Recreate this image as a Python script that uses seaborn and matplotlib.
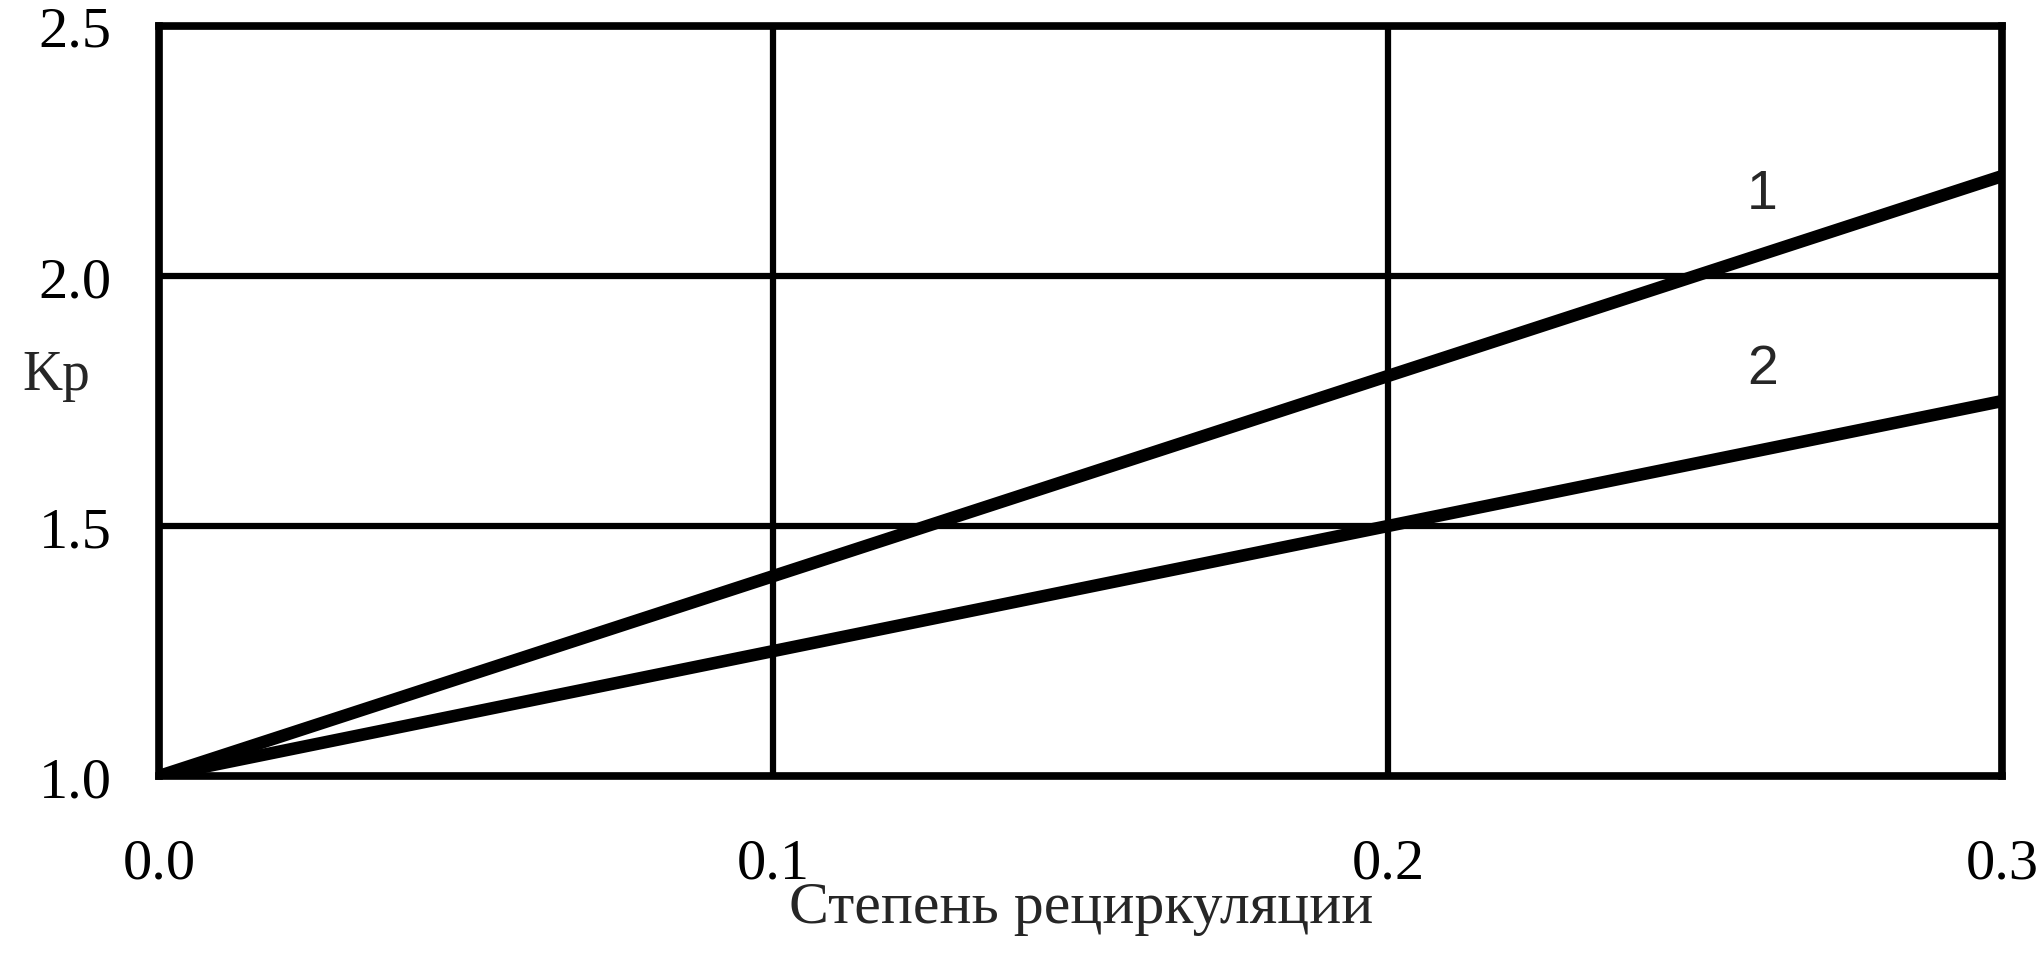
import numpy as np
import pandas as pd
import matplotlib
matplotlib.use("Agg")
import matplotlib.pyplot as plt
import seaborn as sns

# степень рециркуляции и Kp для двух кривых
recirc = [0.0, 0.1, 0.2, 0.3]
kp_1 = [1.0, 1.4, 1.8, 2.2]
kp_2 = [1.0, 1.25, 1.5, 1.75]
curve_names = ["1", "2"]
x_ticks = [0.0, 0.1, 0.2, 0.3]
y_ticks = [1.0, 1.5, 2.0, 2.5]

df = pd.DataFrame({
    "x": recirc * 2,
    "y": kp_1 + kp_2,
    "curve": [curve_names[0]] * len(recirc) + [curve_names[1]] * len(recirc),
})

sns.set_style("white")
plt.rcParams['font.family'] = ['Liberation Serif', 'DejaVu Serif']

fig = plt.figure(figsize=(20.39, 9.54), dpi=100)
ax = fig.add_axes([0.078, 0.1855, 0.904, 0.7862])

sns.lineplot(data=df, x="x", y="y", hue="curve", palette=["black", "black"],
             linewidth=9, legend=False, ax=ax, zorder=3)

ax.set_xlim(0, 0.3)
ax.set_ylim(1.0, 2.5)
ax.set_xticks(x_ticks)
ax.set_yticks(y_ticks)
ax.set_xticklabels([f"{v:.1f}" for v in x_ticks])
ax.set_yticklabels([f"{v:.1f}" for v in y_ticks])
ax.tick_params(axis='both', length=0, labelsize=42, colors='black')
ax.tick_params(axis='x', pad=44)
ax.tick_params(axis='y', pad=34)

ax.grid(True, color='black', linewidth=4.5)
for s in ax.spines.values():
    s.set_visible(True)
    s.set_color('black')
    s.set_linewidth(5.5)

ax.set_xlabel("Степень рециркуляции", fontsize=43, labelpad=-6)
ax.set_ylabel("Kp", fontsize=40, rotation=0, va='center')
ax.yaxis.set_label_coords(-0.056, 0.535)

# подписи кривых
ax.text(0.261, 2.165, curve_names[0], fontsize=40, family=['Liberation Sans'],
        ha='center', va='center')
ax.text(0.261, 1.815, curve_names[1], fontsize=40, family=['Liberation Sans'],
        ha='center', va='center')

fig.savefig("out.png", dpi=100)
